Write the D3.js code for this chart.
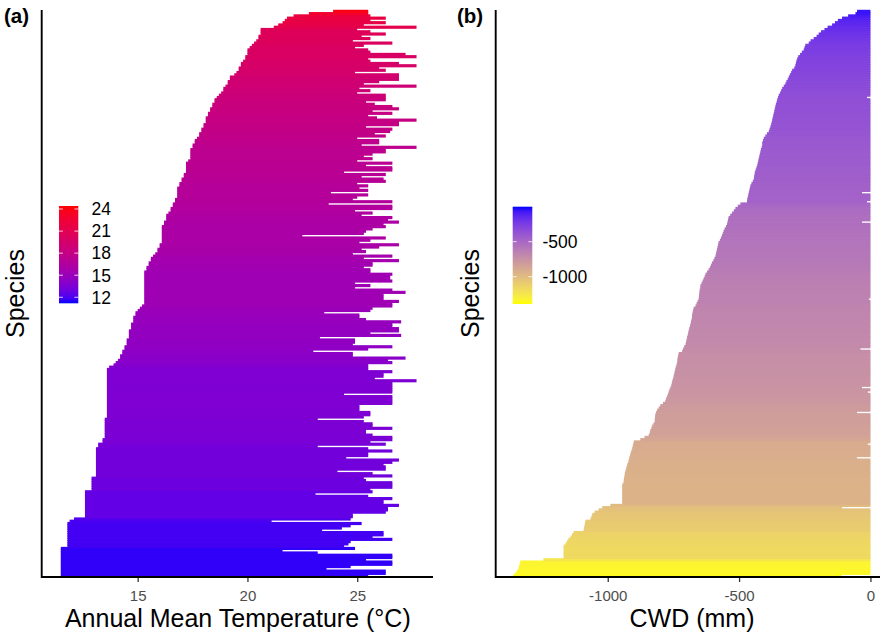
<!DOCTYPE html>
<html><head><meta charset="utf-8">
<script src="https://cdn.jsdelivr.net/npm/d3@7/dist/d3.min.js"></script>
<style>body{margin:0;background:#fff}svg{display:block}text{font-family:"Liberation Sans",Arial,Helvetica,sans-serif}</style>
</head><body>
<svg id="chart" width="880" height="638"></svg>
<script>
// ---- Panel (a): annual mean temperature range per species (sorted by minimum) ----
const tempMin = [
11.5,11.5,11.5,11.5,11.5,11.5,11.5,11.5,11.5,11.5,
11.5,11.5,11.5,11.8,11.8,11.8,11.8,11.8,11.8,11.8,
11.8,11.8,11.8,11.8,11.9,12.1,12.6,12.6,12.6,12.6,
12.6,12.6,12.6,12.6,12.6,12.6,12.6,12.6,12.9,12.9,
12.9,12.9,12.9,12.9,13.1,13.1,13.1,13.1,13.1,13.1,
13.1,13.1,13.1,13.1,13.1,13.1,13.1,13.2,13.2,13.4,
13.4,13.5,13.5,13.5,13.5,13.5,13.5,13.5,13.5,13.5,
13.6,13.6,13.6,13.6,13.6,13.6,13.6,13.6,13.6,13.6,
13.6,13.6,13.6,13.6,13.6,13.6,13.6,13.6,13.6,13.6,
13.6,13.6,13.7,13.9,14.0,14.1,14.2,14.2,14.3,14.3,
14.4,14.4,14.5,14.5,14.5,14.6,14.6,14.6,14.6,14.7,
14.7,14.7,14.8,14.8,14.8,14.9,14.9,15.0,15.1,15.2,
15.3,15.3,15.3,15.3,15.3,15.3,15.3,15.3,15.3,15.3,
15.3,15.3,15.3,15.3,15.3,15.4,15.4,15.5,15.5,15.6,
15.6,15.7,15.8,15.9,15.9,16.0,16.0,16.1,16.1,16.1,
16.1,16.1,16.1,16.1,16.1,16.2,16.2,16.3,16.3,16.3,
16.4,16.5,16.5,16.6,16.6,16.7,16.7,16.8,16.8,16.8,
16.8,16.8,16.9,16.9,17.0,17.0,17.1,17.1,17.2,17.2,
17.2,17.2,17.2,17.3,17.4,17.4,17.4,17.4,17.4,17.5,
17.5,17.6,17.6,17.7,17.8,17.8,17.9,17.9,18.0,18.0,
18.1,18.1,18.1,18.2,18.2,18.3,18.3,18.4,18.4,18.5,
18.5,18.6,18.7,18.8,18.9,18.9,19.0,19.1,19.1,19.2,
19.2,19.4,19.5,19.6,19.6,19.7,19.7,19.8,19.9,19.9,
20.0,20.0,20.0,20.1,20.2,20.3,20.4,20.5,20.5,20.6,
20.6,20.6,21.2,21.4,21.6,21.7,21.8,22.1,22.8,23.9];
const tempMax = [
25.5,26.3,26.3,23.6,24.7,26.6,26.6,25.4,26.6,26.6,
23.2,21.6,24.9,24.4,24.6,24.7,26.6,25.7,26.2,26.2,
23.4,24.3,24.7,25.2,21.1,24.7,24.8,24.8,26.3,26.4,
26.4,26.9,26.2,26.2,26.6,25.5,23.1,25.7,25.6,26.6,
26.6,26.6,25.4,25.3,26.6,25.7,24.1,26.3,26.3,26.2,
26.6,26.9,24.5,25.5,25.5,26.6,25.5,23.2,26.3,25.6,
26.6,26.6,25.7,25.4,25.4,26.6,25.7,25.7,25.3,23.2,
25.3,25.6,25.6,25.1,25.1,25.1,26.6,26.6,26.6,26.6,
24.4,26.6,26.6,26.6,26.6,26.6,27.7,25.8,26.2,26.2,
26.6,25.5,25.5,25.5,26.6,26.4,27.2,24.8,24.8,23.0,
25.5,26.6,24.8,24.9,24.9,23.3,27.0,25.6,26.9,26.9,
26.6,26.6,27.0,25.4,25.1,25.1,23.5,25.6,25.7,26.6,
26.6,26.9,26.2,26.2,26.2,27.2,26.6,24.9,25.6,24.9,
26.6,26.5,26.5,26.6,25.6,25.6,25.3,25.7,25.7,26.9,
25.3,26.6,24.8,25.4,25.2,26.0,26.9,25.1,25.6,26.3,
22.5,25.3,25.4,25.7,26.3,26.2,26.9,26.4,26.6,25.2,
25.7,24.9,26.6,26.6,23.7,26.6,24.8,25.0,25.5,23.8,
25.5,25.1,25.5,25.0,26.3,26.2,25.2,26.3,24.4,26.6,
26.6,25.4,26.6,25.0,25.7,25.3,25.7,26.3,26.3,27.7,
25.2,26.0,26.0,25.0,26.3,25.8,26.5,26.6,25.4,26.9,
26.9,27.7,25.9,25.5,26.6,25.7,26.9,26.6,25.8,25.4,
26.3,26.3,26.3,25.0,25.6,25.1,27.7,25.3,26.0,26.9,
26.9,26.9,24.9,26.3,26.0,27.7,26.9,25.6,25.5,27.7,
27.2,25.6,25.5,24.9,25.3,26.6,24.8,25.6,25.2,26.3,
25.6,25.0,27.7,25.3,26.3,25.6,26.3,25.6,25.5,25.5];
const tempTicks = [15, 20, 25];
const tempLegendTicks = [12, 15, 18, 21, 24];

// ---- Panel (b): climatic water deficit range per species (sorted by minimum) ----
const cwdMin = [
-1360,-1352,-1345,-1340,-1338,-1335,-1333,-1245,-1168,-1168,
-1168,-1168,-1168,-1168,-1161,-1155,-1150,-1142,-1136,-1130,
-1092,-1090,-1088,-1087,-1085,-1066,-1062,-1059,-1050,-1035,
-1021,-990,-945,-945,-945,-945,-945,-945,-945,-945,
-945,-940,-939,-938,-936,-935,-933,-930,-928,-926,
-922,-920,-918,-915,-913,-910,-907,-905,-903,-901,
-876,-860,-844,-840,-838,-834,-831,-826,-821,-821,
-820,-819,-816,-812,-806,-800,-790,-781,-778,-774,
-771,-768,-765,-761,-758,-756,-754,-751,-749,-747,
-745,-743,-741,-738,-736,-735,-734,-732,-730,-717,
-713,-709,-704,-702,-700,-698,-696,-694,-692,-690,
-687,-685,-683,-681,-679,-679,-677,-675,-673,-666,
-662,-658,-654,-653,-652,-651,-650,-648,-647,-643,
-639,-635,-631,-628,-622,-616,-611,-607,-603,-598,
-594,-590,-588,-586,-584,-582,-580,-578,-573,-569,
-565,-562,-559,-555,-550,-546,-544,-542,-540,-534,
-527,-520,-514,-505,-495,-470,-469,-467,-465,-463,
-461,-459,-457,-453,-448,-444,-443,-441,-440,-437,
-434,-431,-429,-427,-425,-423,-421,-419,-417,-414,
-412,-412,-409,-406,-400,-394,-387,-384,-381,-378,
-376,-374,-372,-370,-368,-366,-364,-362,-360,-357,
-355,-352,-349,-344,-340,-336,-330,-324,-320,-315,
-311,-307,-302,-298,-290,-286,-284,-282,-279,-275,
-268,-261,-254,-251,-248,-235,-228,-216,-205,-197,
-188,-175,-163,-146,-135,-124,-108,-85,-57,-51];
const cwdMax = [
-110,0,0,0,0,0,0,0,0,0,
0,0,0,0,0,0,0,0,0,0,
0,0,0,0,0,0,0,0,0,0,
-108,0,0,0,0,0,0,0,0,0,
0,0,0,0,0,0,0,0,0,0,
0,0,-51,0,0,0,0,0,-10,0,
0,0,0,0,0,0,0,0,0,0,
0,0,-51,0,0,0,0,0,0,0,
0,-10,0,-32,0,0,0,0,0,0,
0,0,0,0,0,0,0,0,0,0,
-38,0,0,0,0,0,0,0,0,0,
0,0,0,0,0,0,0,0,0,0,
0,0,-6,0,0,0,0,0,0,0,
0,0,0,0,0,0,0,0,0,0,
0,0,0,0,0,0,0,0,0,0,
0,0,0,0,0,0,-32,0,0,0,
0,0,0,0,0,-13,0,0,0,-32,
0,0,0,0,0,0,0,0,0,0,
0,0,0,0,0,0,0,0,0,0,
0,0,0,0,0,0,0,0,0,0,
0,0,0,0,0,0,0,0,0,0,
0,-13,0,0,0,0,0,0,0,0,
0,0,0,0,0,0,0,0,0,0,
0,0,0,0,0,0,0,0,0,0,
0,0,0,0,0,0,0,0,0,0];
const cwdTicks = [-1000, -500, 0];
const cwdLegendTicks = [-1000, -500];

const species = tempMin.map((_, i) => "sp" + (i + 1));

// ---------------------------------------------------------------------------
const svg = d3.select("#chart");
const defs = svg.append("defs");
const TOP = 10, BOTTOM = 577;
const plain = d => String(d);

function drawPanel(cfg) {
  const n = cfg.mins.length;
  const y = d3.scaleBand().domain(d3.range(n)).range([BOTTOM, TOP]).paddingInner(0).paddingOuter(0.1);
  const x = cfg.x;
  const g = svg.append("g");

  g.selectAll("rect.bar").data(cfg.mins).join("rect")
    .attr("class", "bar")
    .attr("x", d => x(d))
    .attr("y", (d, i) => y(i) - 0.45)
    .attr("height", y.bandwidth() + 0.9)
    .attr("width", (d, i) => Math.max(0, x(cfg.maxs[i]) - x(d)))
    .attr("fill", d => cfg.color(d));

  // x axis
  const ax = g.append("g").attr("transform", `translate(0,${BOTTOM})`)
    .call(d3.axisBottom(x).tickValues(cfg.ticks).tickFormat(plain)
      .tickSize(5).tickSizeOuter(0).tickPadding(8.5));
  ax.select(".domain").remove();
  ax.selectAll(".tick line").attr("stroke", "#333").attr("stroke-width", 1.3);
  ax.selectAll(".tick text").attr("fill", "#4d4d4d").attr("font-size", 15)
    .style("font-family", '"Liberation Sans",Arial,sans-serif');

  const r = x.range();
  g.append("line").attr("x1", r[0]).attr("x2", r[1]).attr("y1", BOTTOM).attr("y2", BOTTOM)
    .attr("stroke", "#000").attr("stroke-width", 1.9);
  g.append("line").attr("x1", r[0]).attr("x2", r[0]).attr("y1", TOP).attr("y2", BOTTOM + 0.9)
    .attr("stroke", "#000").attr("stroke-width", 1.9);

  // titles
  g.append("text").attr("x", (r[0] + r[1]) / 2 + cfg.titleShift).attr("y", 627)
    .attr("text-anchor", "middle").attr("font-size", 25).attr("fill", "#000").text(cfg.xTitle);
  g.append("text").attr("transform", `translate(${cfg.yTitleX},${(TOP + BOTTOM) / 2}) rotate(-90)`)
    .attr("text-anchor", "middle").attr("font-size", 25).attr("fill", "#000").text("Species");
  g.append("text").attr("x", cfg.tagX).attr("y", 23).attr("font-size", 20.5).attr("font-weight", "bold")
    .attr("fill", "#000").text(cfg.tag);

  // colour bar legend
  const L = cfg.legend;
  const gid = "grad-" + cfg.tag.replace(/\W/g, "");
  const grad = defs.append("linearGradient").attr("id", gid)
    .attr("x1", 0).attr("y1", 1).attr("x2", 0).attr("y2", 0);
  const dom = L.scale.domain();
  d3.range(0, 1.0001, 0.05).forEach(t => {
    grad.append("stop").attr("offset", t).attr("stop-color", cfg.color(dom[0] + t * (dom[1] - dom[0])));
  });
  const lr = L.scale.range();
  g.append("rect").attr("x", L.x).attr("y", lr[1]).attr("width", L.w).attr("height", lr[0] - lr[1])
    .attr("fill", `url(#${gid})`);
  L.ticks.forEach(v => {
    const ty = L.scale(v);
    g.append("line").attr("x1", L.x).attr("x2", L.x + L.w / 5).attr("y1", ty).attr("y2", ty)
      .attr("stroke", "#fff").attr("stroke-opacity", 0.8).attr("stroke-width", 1);
    g.append("line").attr("x1", L.x + L.w * 4 / 5).attr("x2", L.x + L.w).attr("y1", ty).attr("y2", ty)
      .attr("stroke", "#fff").attr("stroke-opacity", 0.8).attr("stroke-width", 1);
    g.append("text").attr("x", L.labelX).attr("y", ty).attr("dy", "0.36em")
      .attr("font-size", 17.5).attr("fill", "#000").text(plain(v));
  });
}

const colA = d3.scaleLinear().domain([11.18, 24.41]).range(["#0000ff", "#ff0000"])
  .interpolate(d3.interpolateLab).clamp(true);
const colB = d3.scaleLinear().domain([-1390, 0]).range(["#ffff00", "#0000ff"])
  .interpolate(d3.interpolateLab).clamp(true);

drawPanel({
  mins: tempMin, maxs: tempMax,
  x: d3.scaleLinear().domain([10.63, 28.45]).range([41.7, 433]),
  color: colA, ticks: tempTicks,
  xTitle: "Annual Mean Temperature (°C)", titleShift: 0.5,
  tag: "(a)", tagX: 4, yTitleX: 24,
  legend: { x: 59, w: 19.3, labelX: 91.5, ticks: tempLegendTicks,
            scale: d3.scaleLinear().domain([11.18, 24.41]).range([303.3, 206]) }
});

drawPanel({
  mins: cwdMin, maxs: cwdMax,
  x: d3.scaleLinear().domain([-1426.5, 68]).range([495.7, 888.3]),
  color: colB, ticks: cwdTicks,
  xTitle: "CWD (mm)", titleShift: 0,
  tag: "(b)", tagX: 457, yTitleX: 479,
  legend: { x: 512.7, w: 19.6, labelX: 542.5, ticks: cwdLegendTicks,
            scale: d3.scaleLinear().domain([-1390, 0]).range([304, 206.7]) }
});
</script>
</body></html>
